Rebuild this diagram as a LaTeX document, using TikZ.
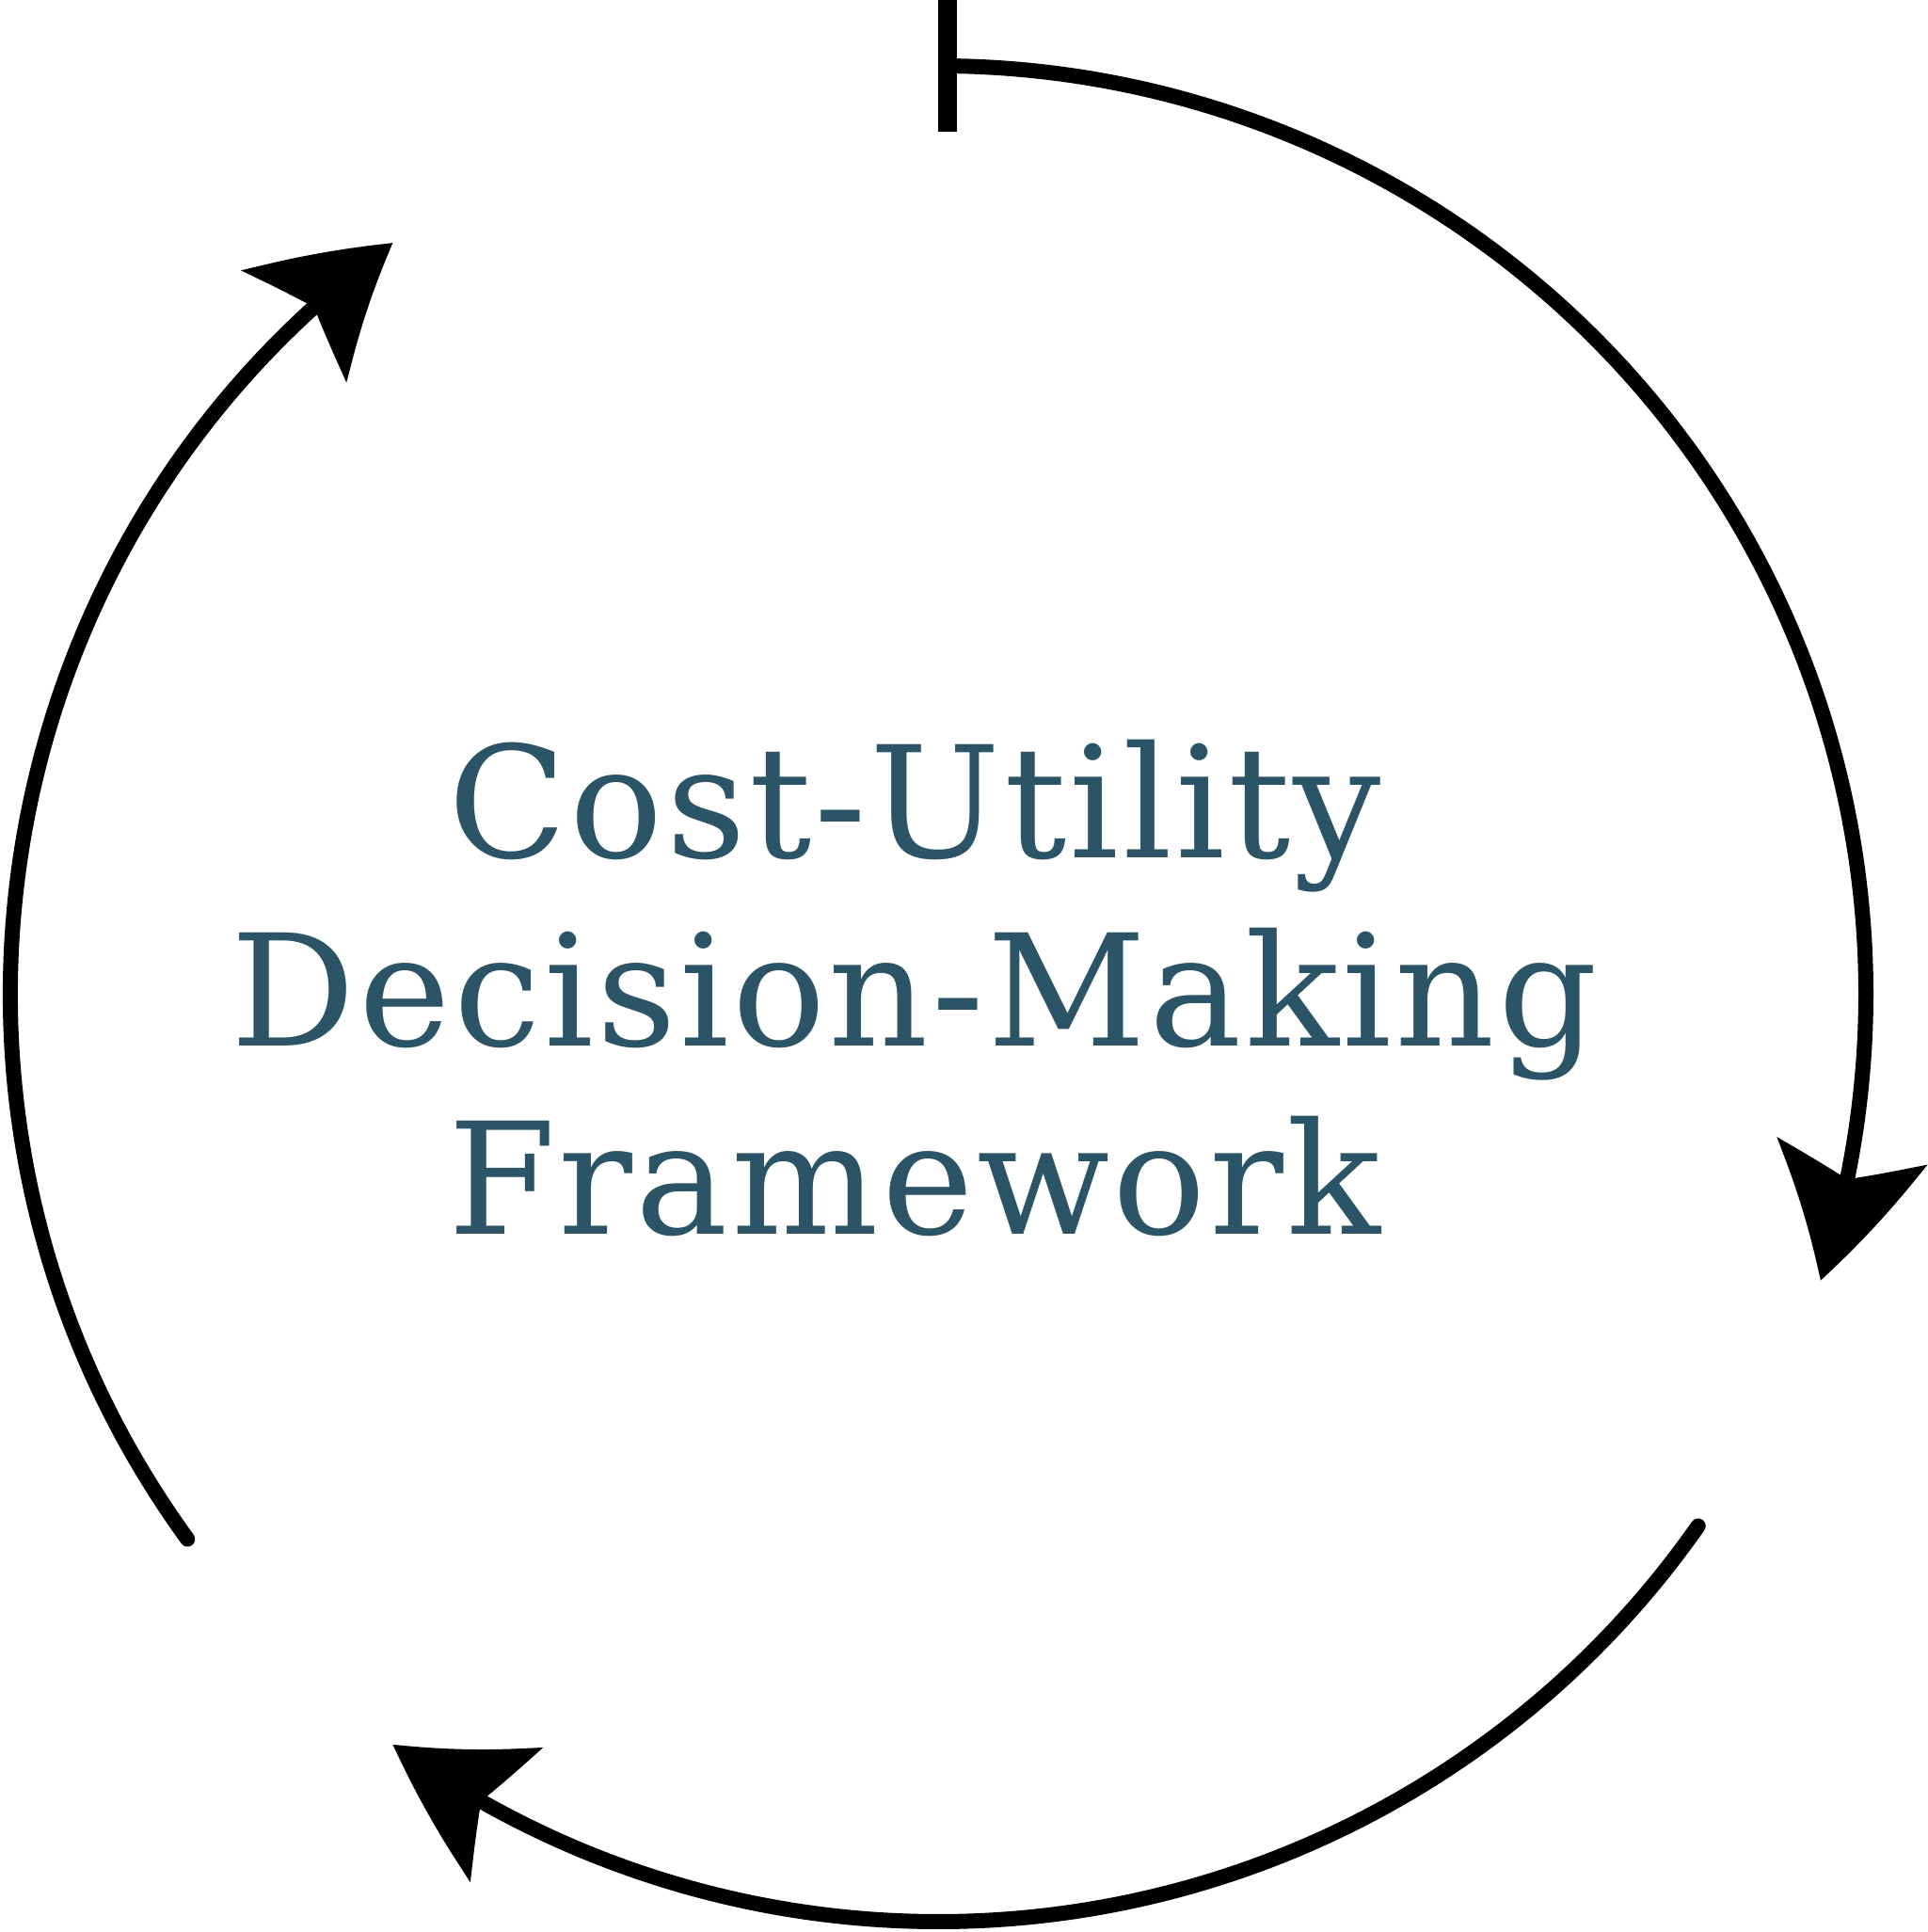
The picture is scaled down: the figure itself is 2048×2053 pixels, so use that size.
\documentclass[tikz,border=0pt]{standalone}
\usepackage{fontspec}
\newfontfamily\titlefont[LetterSpace=2]{DejaVu Serif}
\usetikzlibrary{arrows.meta, bending}
\definecolor{title}{HTML}{2B5566}

\begin{document}
\begin{tikzpicture}[
    x=1pt, y=1pt, line cap=round,
    cyc/.style={line width=16pt, draw=black},
    head/.style={-{Stealth[length=142pt, width=160pt, inset=30pt, bend]}},
    lab/.style={font=\titlefont\fontsize{165}{200}\selectfont, text=title, align=center},
]
\useasboundingbox (0,0) rectangle (2048,2053);
\coordinate (c) at (997,997);

\node[lab] (t) at (972,1003) {Cost-Utility\\ Decision-Making\\ Framework};

% three arcs of the cycle
\draw[cyc, {Bar[width=140pt, line width=20pt]}-{Stealth[length=142pt, width=160pt, inset=30pt, bend]}]
    ([shift={(90:986)}]c) arc[start angle=90, end angle=-18, radius=986];
\draw[cyc, head] ([shift={(-35:986)}]c) arc[start angle=-35, end angle=-126, radius=986];
\draw[cyc, head] ([shift={(216:986)}]c) arc[start angle=216, end angle=126, radius=986];

\end{tikzpicture}
\end{document}
